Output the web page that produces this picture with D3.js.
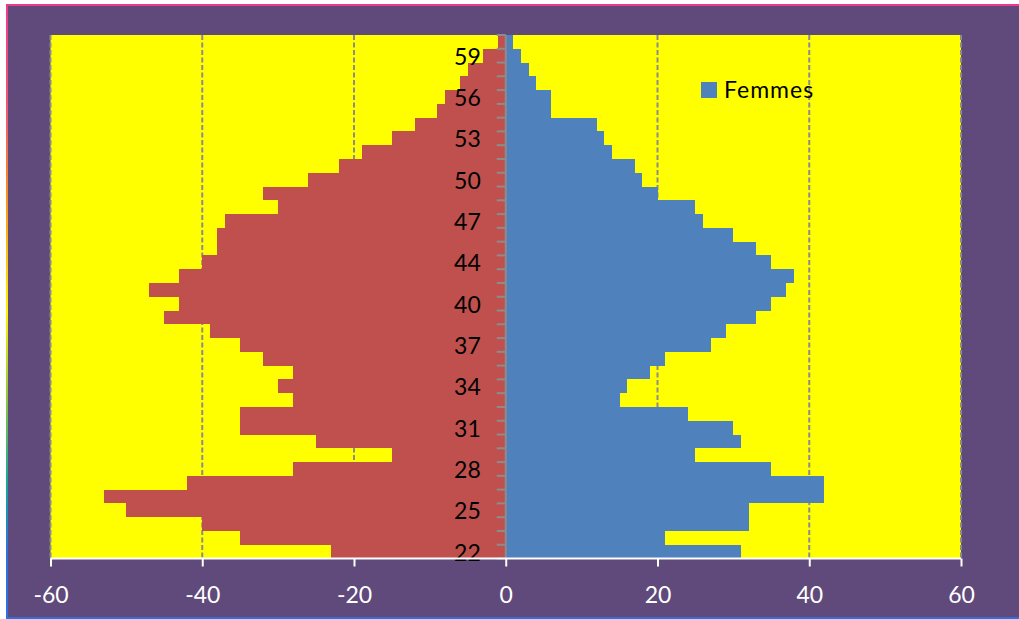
<!DOCTYPE html>
<html>
<head>
<meta charset="utf-8">
<script src="https://cdn.jsdelivr.net/npm/d3@7"></script>
<style>
  html, body { margin: 0; padding: 0; background: #ffffff; }
  svg { display: block; }
  text { font-family: Lato, "Open Sans", sans-serif; }
</style>
</head>
<body>
<svg id="chart" width="1019" height="619"></svg>
<script>
// Age categories (one year is absent between 40 and 44 in the source table)
const ages = [22, 23, 24, 25, 26, 27, 28, 29, 30, 31, 32, 33, 34, 35, 36, 37, 38, 39, 40,
              41, 42,
              44, 45, 46, 47, 48, 49, 50, 51, 52, 53, 54, 55, 56, 57, 58, 59, 60];

// Men are stored as negative counts so they extend to the left
const hommes = [-23, -35, -40, -50, -53, -42, -28, -15, -25, -35, -35, -28, -30, -28, -32, -35, -39, -45, -43,
                -47, -43,
                -40, -38, -38, -37, -30, -32, -26, -22, -19, -15, -12, -9, -8, -6, -5, -3, -1];

const femmes = [31, 21, 32, 32, 42, 42, 35, 25, 31, 30, 24, 15, 16, 19, 21, 27, 29, 33, 35,
                37, 38,
                35, 33, 30, 26, 25, 20, 18, 17, 14, 13, 12, 6, 6, 4, 3, 2, 1];

const xTicks = [-60, -40, -20, 0, 20, 40, 60];
const legendLabel = "Femmes";

const svg = d3.select("#chart");

// Outer frame with a rainbow border
const defs = svg.append("defs");
const grad = defs.append("linearGradient")
  .attr("id", "frameGrad")
  .attr("gradientUnits", "userSpaceOnUse")
  .attr("x1", 0).attr("y1", 4).attr("x2", 0).attr("y2", 619);
[[0, "#ee3a8e"], [0.18, "#f25a6a"], [0.32, "#f7941d"], [0.5, "#fff200"],
 [0.64, "#8dc63f"], [0.78, "#14a79a"], [0.9, "#2f6fe0"], [1, "#2f6fe0"]]
  .forEach(([o, c]) => grad.append("stop").attr("offset", o).attr("stop-color", c));

svg.append("rect")
  .attr("x", 6).attr("y", 4)
  .attr("width", 1040).attr("height", 640)
  .attr("fill", "url(#frameGrad)");
svg.append("rect")
  .attr("x", 8).attr("y", 6)
  .attr("width", 1040).attr("height", 611)
  .attr("fill", "#604a7b");
// top border band stays pink along its whole length
svg.append("rect")
  .attr("x", 6).attr("y", 4)
  .attr("width", 1040).attr("height", 2)
  .attr("fill", "#ee3a8e");
// bottom border band
svg.append("rect")
  .attr("x", 6).attr("y", 617)
  .attr("width", 1040).attr("height", 4)
  .attr("fill", "#2f6fe0");

// Plot area
const plotLeft = 50.5, plotRight = 961, plotTop = 35, plotBottom = 558.5;

const x = d3.scaleLinear().domain([-60, 60]).range([plotLeft, plotRight]);
const y = d3.scaleBand().domain(ages).range([plotBottom, plotTop]).padding(0);

svg.append("rect")
  .attr("x", plotLeft).attr("y", plotTop)
  .attr("width", plotRight - plotLeft).attr("height", plotBottom - plotTop)
  .attr("fill", "#ffff00");

// Dashed vertical gridlines
svg.append("g")
  .selectAll("line")
  .data(xTicks.filter(d => d !== 0))
  .join("line")
  .attr("x1", d => x(d)).attr("x2", d => x(d))
  .attr("y1", plotTop).attr("y2", plotBottom)
  .attr("stroke", "#8c8c8c")
  .attr("stroke-width", 2)
  .attr("stroke-dasharray", "5,2.5");

// Bars
const bars = svg.append("g").attr("shape-rendering", "crispEdges");
bars.selectAll("rect.h")
  .data(ages.map((a, i) => ({ age: a, v: hommes[i] })))
  .join("rect")
  .attr("class", "h")
  .attr("x", d => x(d.v))
  .attr("y", d => y(d.age))
  .attr("width", d => x(0) - x(d.v))
  .attr("height", y.bandwidth())
  .attr("fill", "#c0504d");

bars.selectAll("rect.f")
  .data(ages.map((a, i) => ({ age: a, v: femmes[i] })))
  .join("rect")
  .attr("class", "f")
  .attr("x", x(0))
  .attr("y", d => y(d.age))
  .attr("width", d => x(d.v) - x(0))
  .attr("height", y.bandwidth())
  .attr("fill", "#4f81bd");

// Category axis at zero
const yAxis = d3.axisLeft(y)
  .tickValues(ages.filter((a, i) => i % 3 === 0))
  .tickSize(0)
  .tickPadding(25);
const yg = svg.append("g")
  .attr("transform", `translate(${x(0)},0)`)
  .call(yAxis);
yg.select(".domain").remove();
yg.selectAll("text")
  .attr("font-size", 23)
  .attr("dy", "0.39em")
  .attr("fill", "#000000")
  .attr("font-family", "Lato, 'Open Sans', sans-serif");

// Category boundary ticks and axis line
const boundaries = ages.map(a => y(a)).concat([plotBottom]);
svg.append("g")
  .selectAll("line")
  .data(boundaries)
  .join("line")
  .attr("x1", x(0) - 9).attr("x2", x(0))
  .attr("y1", d => d).attr("y2", d => d)
  .attr("stroke", "#8c8c8c")
  .attr("stroke-width", 2);
svg.append("line")
  .attr("x1", x(0)).attr("x2", x(0))
  .attr("y1", plotTop).attr("y2", plotBottom)
  .attr("stroke", "#8c8c8c")
  .attr("stroke-width", 2);

// Value axis
const xAxis = d3.axisBottom(x)
  .tickValues(xTicks)
  .tickSize(8)
  .tickPadding(20)
  .tickFormat(d3.format("d"));
const xg = svg.append("g")
  .attr("transform", `translate(0,${plotBottom})`)
  .call(xAxis);
xg.select(".domain")
  .attr("stroke", "#ffffff")
  .attr("stroke-width", 2)
  .attr("d", `M${plotLeft},0H${plotRight}`);
xg.selectAll(".tick line")
  .attr("stroke", "#ffffff")
  .attr("stroke-width", 2);
xg.selectAll("text")
  .attr("font-size", 23)
  .attr("fill", "#ffffff")
  .attr("font-family", "Lato, 'Open Sans', sans-serif")
  .text(d => d < 0 ? "-" + Math.abs(d) : d);

// Legend
const lg = svg.append("g").attr("transform", "translate(701,82)");
lg.append("rect")
  .attr("width", 16).attr("height", 16)
  .attr("fill", "#4f81bd");
lg.append("text")
  .attr("x", 23).attr("y", 16)
  .attr("font-size", 23)
  .attr("letter-spacing", "1px")
  .attr("fill", "#000000")
  .text(legendLabel);
</script>
</body>
</html>
